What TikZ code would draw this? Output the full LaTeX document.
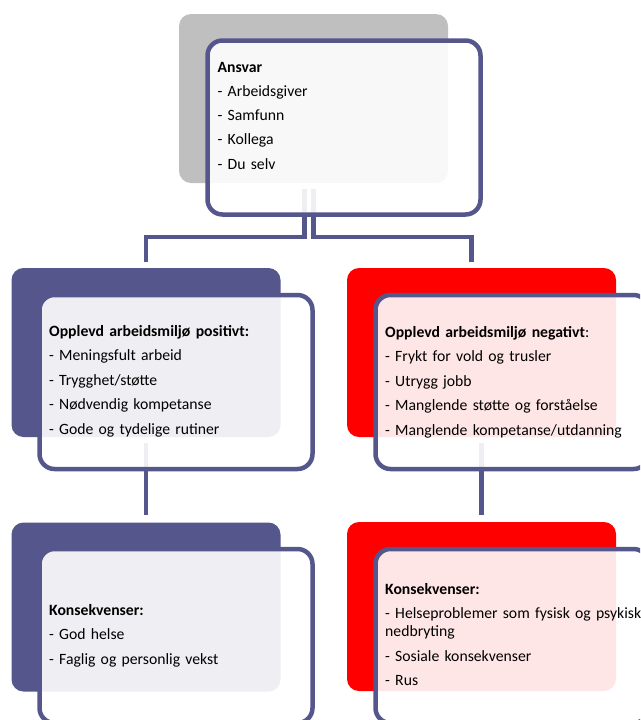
\documentclass[tikz,border=0pt]{standalone}
\usepackage{fontspec}
\setmainfont{Carlito}
\usetikzlibrary{backgrounds,calc}
\definecolor{slate}{RGB}{84,86,140}
\definecolor{greyback}{RGB}{191,191,191}
\definecolor{redback}{RGB}{255,0,0}
\tikzset{
  backbox/.style={rectangle, rounded corners=12pt, minimum width=269pt, minimum height=169pt, inner sep=0pt, draw=none},
  frontbox/.style={rectangle, rounded corners=15pt, minimum width=273pt, minimum height=174pt, inner sep=0pt,
    draw=slate, line width=4.5pt, fill=white, fill opacity=0.9, draw opacity=1},
  conn/.style={draw=slate, line width=4.5pt},
  txt/.style={anchor=base west, inner sep=0pt, text width=300pt, align=left,
    font=\fontsize{15.7}{18.3}\selectfont}
}
\begin{document}
\begin{tikzpicture}[x=1pt,y=-1pt]
\useasboundingbox (0,0) rectangle (640,720);
\clip (0,0) rectangle (640,720);
% back boxes
\node[backbox, fill=greyback] (b0) at (313.5,98.5) {};
\node[backbox, fill=slate] (b1) at (146,352.5) {};
\node[backbox, fill=redback] (b2) at (481.5,352.5) {};
\node[backbox, fill=slate] (b3) at (146,607) {};
\node[backbox, fill=redback] (b4) at (481.5,606.5) {};
% connectors (behind)
\begin{pgfonlayer}{background}
\draw[conn] ([xshift=-9pt,yshift=-6pt]b0.south) -- ++(0,48) -| ([yshift=6pt]b1.north);
\draw[conn] ([yshift=-6pt]b0.south) -- ++(0,48) -| ([xshift=-10pt,yshift=6pt]b2.north);
\draw[conn] ([yshift=-6pt]b1.south) -- ([yshift=7pt]b3.north);
\draw[conn] ([yshift=-6pt]b2.south) -- ([yshift=7pt]b4.north);
\end{pgfonlayer}
% front boxes
\node[frontbox] (f0) at (344,127.5) {};
\node[frontbox] (f1) at (176,382) {};
\node[frontbox] (f2) at (512,382) {};
\node[frontbox] (f3) at (176,636) {};
\node[frontbox] (f4) at (512,636) {};
% texts
\node[txt] (t0) at (217.5,72.3) {\textbf{Ansvar}\\[5.9pt]- Arbeidsgiver\\[5.9pt]- Samfunn\\[5.9pt]- Kollega\\[5.9pt]- Du selv};
\node[txt] (t1) at (49,336) {\textbf{Opplevd arbeidsmiljø positivt:}\\[6.2pt]- Meningsfult arbeid\\[6.2pt]- Trygghet/støtte\\[6.2pt]- Nødvendig kompetanse\\[6.2pt]- Gode og tydelige rutiner};
\node[txt] (t2) at (385,337) {\textbf{Opplevd arbeidsmiljø negativt}:\\[6.2pt]- Frykt for vold og trusler\\[6.2pt]- Utrygg jobb\\[6.2pt]- Manglende støtte og forståelse\\[6.2pt]- Manglende kompetanse/utdanning};
\node[txt] (t3) at (49,615) {\textbf{Konsekvenser:}\\[6.2pt]- God helse\\[6.2pt]- Faglig og personlig vekst};
\node[txt] (t4) at (385,594) {\textbf{Konsekvenser:}\\[6.2pt]- Helseproblemer som fysisk og psykisk\\nedbryting\\[6.2pt]- Sosiale konsekvenser\\[6.2pt]- Rus};
\end{tikzpicture}
\end{document}
